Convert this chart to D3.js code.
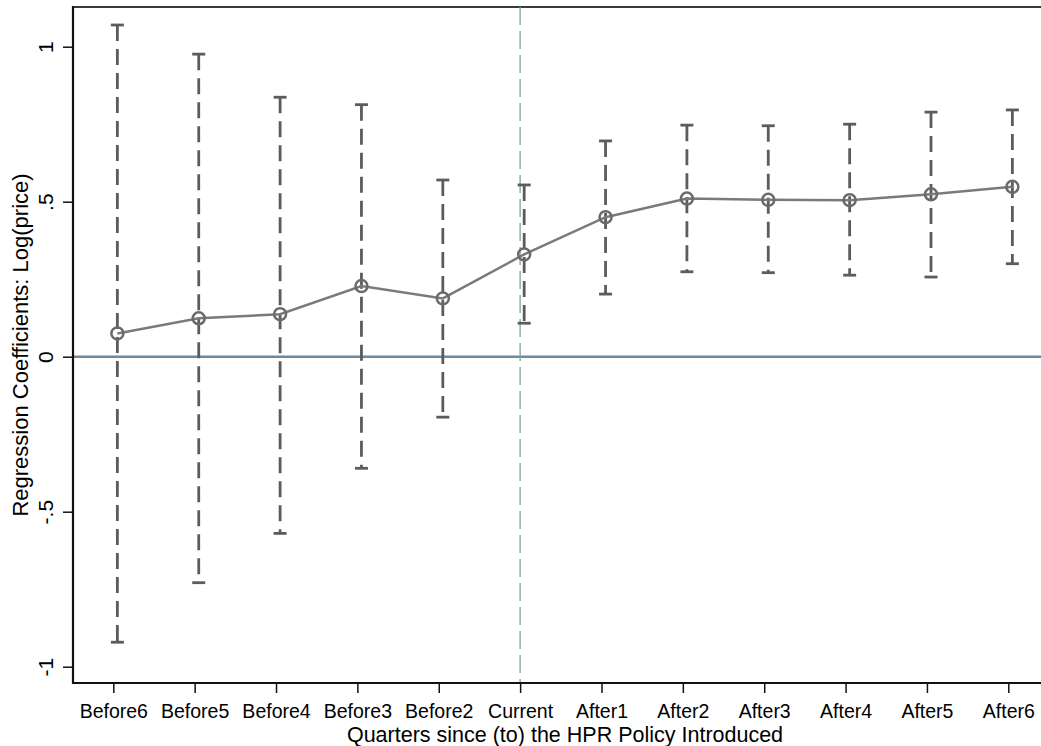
<!DOCTYPE html>
<html>
<head>
<meta charset="utf-8">
<script src="https://cdn.jsdelivr.net/npm/d3@7"></script>
<style>
  body { margin: 0; background: #fff; }
  svg { display: block; font-family: "Liberation Sans", Arial, sans-serif; }
</style>
</head>
<body>
<div id="chart"></div>
<script>
// event-study coefficients
const periods = ["Before6", "Before5", "Before4", "Before3", "Before2", "Current",
                 "After1", "After2", "After3", "After4", "After5", "After6"];
const coef  = [0.075, 0.124, 0.137, 0.228, 0.188, 0.330, 0.450, 0.510, 0.506, 0.505, 0.524, 0.548];
const upper = [1.070, 0.976, 0.837, 0.813, 0.570, 0.554, 0.696, 0.747, 0.745, 0.750, 0.789, 0.796];
const lower = [-0.921, -0.729, -0.570, -0.360, -0.195, 0.108, 0.202, 0.274, 0.271, 0.263, 0.257, 0.300];
const yTicks = [-1, -0.5, 0, 0.5, 1];
const yTickLabels = ["-1", "-.5", "0", ".5", "1"];
const policyPeriod = "Current";
const markerShift = 0.05; // markers sit slightly right of the tick

const width = 1041, height = 746;
const plot = {left: 73, top: 7, right: 1049, bottom: 683};

const svg = d3.select('#chart').append('svg')
  .attr('width', width)
  .attr('height', height);

const x = d3.scaleLinear()
  .domain([0, periods.length - 1])
  .range([113.3, 1008.3]);

const y = d3.scaleLinear()
  .domain([-1, 1])
  .range([666.7, 46.7]);

const data = periods.map((p, i) => ({p, i, b: coef[i], hi: upper[i], lo: lower[i]}));

// plot region outline (top edge only visible besides axes)
svg.append('line')
  .attr('x1', plot.left).attr('x2', plot.right)
  .attr('y1', plot.top).attr('y2', plot.top)
  .attr('stroke', '#3a3a3a').attr('stroke-width', 2);

// zero reference line
svg.append('line')
  .attr('x1', plot.left).attr('x2', plot.right)
  .attr('y1', y(0)).attr('y2', y(0))
  .attr('stroke', '#6b8aa1').attr('stroke-width', 2.5);

// policy introduction line
const pIdx = periods.indexOf(policyPeriod);
svg.append('line')
  .attr('x1', x(pIdx)).attr('x2', x(pIdx))
  .attr('y1', plot.top).attr('y2', plot.bottom)
  .attr('stroke', '#7aa69a').attr('stroke-width', 1.3)
  .attr('stroke-dasharray', '18,6');

// confidence intervals
const ci = svg.append('g').attr('stroke', '#5c5c5c').attr('stroke-width', 2.8);
ci.selectAll('line.bar')
  .data(data)
  .join('line')
    .attr('class', 'bar')
    .attr('x1', d => x(d.i + markerShift)).attr('x2', d => x(d.i + markerShift))
    .attr('y1', d => y(d.hi)).attr('y2', d => y(d.lo))
    .attr('stroke-dasharray', '16,8');
ci.selectAll('line.capHi')
  .data(data)
  .join('line')
    .attr('class', 'capHi')
    .attr('x1', d => x(d.i + markerShift) - 6.5).attr('x2', d => x(d.i + markerShift) + 6.5)
    .attr('y1', d => y(d.hi)).attr('y2', d => y(d.hi));
ci.selectAll('line.capLo')
  .data(data)
  .join('line')
    .attr('class', 'capLo')
    .attr('x1', d => x(d.i + markerShift) - 6.5).attr('x2', d => x(d.i + markerShift) + 6.5)
    .attr('y1', d => y(d.lo)).attr('y2', d => y(d.lo));

// coefficient line + hollow markers
svg.append('path')
  .datum(data)
  .attr('fill', 'none')
  .attr('stroke', '#7a7a7a')
  .attr('stroke-width', 2.5)
  .attr('d', d3.line().x(d => x(d.i + markerShift)).y(d => y(d.b)));

svg.append('g').selectAll('circle')
  .data(data)
  .join('circle')
    .attr('cx', d => x(d.i + markerShift))
    .attr('cy', d => y(d.b))
    .attr('r', 6)
    .attr('fill', 'none')
    .attr('stroke', '#6a6a6a')
    .attr('stroke-width', 2.5);

// y axis
const yAxis = svg.append('g')
  .attr('transform', `translate(${plot.left},0)`)
  .call(d3.axisLeft(y).tickValues(yTicks).tickSize(10).tickPadding(0)
    .tickFormat((d, i) => yTickLabels[i]));
yAxis.select('.domain').remove();
yAxis.append('line')
  .attr('x1', 0).attr('x2', 0)
  .attr('y1', plot.top - 1).attr('y2', plot.bottom + 1)
  .attr('stroke', '#111').attr('stroke-width', 2.2);
yAxis.selectAll('.tick line').attr('stroke', '#111').attr('stroke-width', 1.5);
yAxis.selectAll('.tick text')
  .attr('x', null).attr('dy', null)
  .attr('text-anchor', 'middle')
  .attr('transform', 'translate(-20,0) rotate(-90)')
  .attr('fill', '#000')
  .style('font-size', '21px');

// x axis
const xAxis = svg.append('g')
  .attr('transform', `translate(0,${plot.bottom})`)
  .call(d3.axisBottom(x).tickValues(d3.range(periods.length)).tickSize(10).tickPadding(0)
    .tickFormat(i => periods[i]));
xAxis.select('.domain').remove();
xAxis.append('line')
  .attr('x1', plot.left - 1).attr('x2', plot.right)
  .attr('y1', 0).attr('y2', 0)
  .attr('stroke', '#111').attr('stroke-width', 2.2);
xAxis.selectAll('.tick line').attr('stroke', '#111').attr('stroke-width', 1.5);
xAxis.selectAll('.tick text')
  .attr('y', 34.5).attr('dy', null)
  .attr('fill', '#000')
  .style('font-size', '19.5px');

// axis titles
svg.append('text')
  .attr('x', 565).attr('y', 741.5)
  .attr('text-anchor', 'middle')
  .style('font-size', '21.5px')
  .text('Quarters since (to) the HPR Policy Introduced');

svg.append('text')
  .attr('transform', `translate(28,${(plot.top + plot.bottom) / 2}) rotate(-90)`)
  .attr('text-anchor', 'middle')
  .style('font-size', '22px')
  .text('Regression Coefficients: Log(price)');
</script>
</body>
</html>
